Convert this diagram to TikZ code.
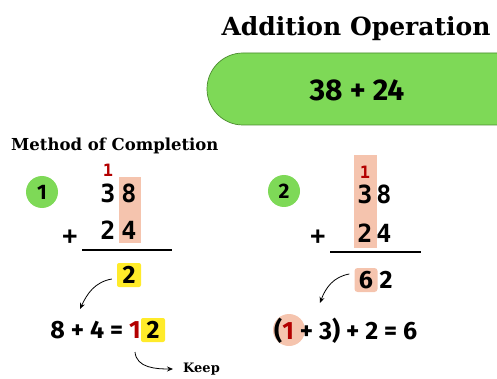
\documentclass[tikz,border=0pt]{standalone}
\usepackage{fontspec}
\setmainfont{DejaVu Serif}
\newfontfamily\numfont{Fira Sans}
\newfontfamily\colfont{DejaVu Sans Mono}
\usetikzlibrary{arrows.meta}
\definecolor{pillgreen}{HTML}{7ED957}
\definecolor{pillborder}{HTML}{4A8A2E}
\definecolor{peach}{HTML}{F5C4AE}
\definecolor{hiyellow}{HTML}{FFEB2A}
\definecolor{carryred}{HTML}{B30000}
\tikzset{
  heading/.style={font=\bfseries\fontsize{25}{29}\selectfont, inner sep=0pt},
  subheading/.style={font=\bfseries\fontsize{16.5}{19}\selectfont, inner sep=0pt},
  digit/.style={font=\colfont\bfseries\fontsize{25}{28}\selectfont, inner sep=0pt},
  carry/.style={digit, text=carryred, font=\colfont\bfseries\fontsize{17}{19}\selectfont},
  eqtext/.style={font=\numfont\bfseries\fontsize{25}{28}\selectfont, inner sep=0pt},
  stepmarker/.style={circle, fill=pillgreen, minimum size=32pt, inner sep=0pt,
    font=\numfont\bfseries\fontsize{21}{24}\selectfont},
  sumline/.style={line width=2.2pt},
  curvedarrow/.style={-{Stealth[length=6pt,width=5pt]}, line width=0.8pt},
}
\begin{document}
\begin{tikzpicture}[x=1pt,y=-1pt]
\useasboundingbox (0,0) rectangle (497,379);

% title and the expression in its pill
\node[heading] (title) at (356,29) {Addition Operation};
\begin{scope}
  \clip (0,0) rectangle (497,379);
  \node[draw=pillborder, line width=0.7pt, fill=pillgreen, rounded corners=36pt,
        minimum width=330pt, minimum height=72pt] (pill) at (372,89) {};
\end{scope}
\node[font=\numfont\bfseries\fontsize{30}{33}\selectfont, inner sep=0pt] (expr) at (357,90) {38 + 24};

\node[subheading, anchor=west] (method) at (11,146) {Method of Completion};

% ---- step 1: units column ----
\node[stepmarker] (s1) at (42,192) {1};
\fill[peach] (119,177) rectangle (141,243);
\node[carry] (c1) at (108,170) {1};
\node[digit] (a1) at (108,193) {3};
\node[digit] (a2) at (129,193) {8};
\node[digit] (b1) at (108,230) {2};
\node[digit] (b2) at (129,230) {4};
\node[digit] (plus1) at (70,237) {+};
\coordinate (l1a) at (82,250);
\coordinate (l1b) at (172,250);
\draw[sumline] (l1a) -- (l1b);

\node[fill=hiyellow, rounded corners=2pt, minimum width=24pt, minimum height=24pt,
      inner sep=0pt, eqtext] (r1) at (129,275) {2};
\node[fill=hiyellow, rounded corners=2pt, minimum width=24pt, minimum height=24pt,
      inner sep=0pt, eqtext] (u1) at (153,330) {2};
\node[eqtext, anchor=east] (e1) at (u1.west) {8 + 4 = \textcolor{carryred}{1}};
\coordinate (t1) at (80,309);
\draw[curvedarrow] (r1.west) ++(-5,4) to[out=190,in=65] (t1);

\coordinate (k0) at (135,352);
\node[font=\bfseries\fontsize{13}{15}\selectfont, inner sep=0pt, anchor=west] (keep) at (183,369) {Keep};
\draw[curvedarrow] (k0) to[out=275,in=180] ([xshift=-10pt]keep.west);

% ---- step 2: tens column ----
\node[stepmarker] (s2) at (284,191) {2};
\fill[peach] (354,155) rectangle (377,248);
\node[carry] (c2) at (365,172) {1};
\node[digit] (d1) at (365,194) {3};
\node[digit] (d2) at (384,194) {8};
\node[digit] (f1) at (365,233) {2};
\node[digit] (f2) at (384,233) {4};
\node[digit] (plus2) at (318,237) {+};
\coordinate (l2a) at (330,252);
\coordinate (l2b) at (421,252);
\draw[sumline] (l2a) -- (l2b);

\node[fill=peach, rounded corners=3pt, minimum width=23pt, minimum height=24pt,
      inner sep=0pt, eqtext] (r2) at (366,280) {6};
\node[eqtext] (r2b) at (386,280) {2};
\coordinate (t2) at (320,303);
\draw[curvedarrow] (r2.west) ++(-5,-6) to[out=190,in=70] (t2);

\node[circle, fill=peach, minimum size=32pt, inner sep=0pt] (carrydot) at (289,330) {};
\node[eqtext, anchor=west] (e2) at (274,331) {(\textcolor{carryred}{1} + 3) + 2 = 6};
\end{tikzpicture}
\end{document}
